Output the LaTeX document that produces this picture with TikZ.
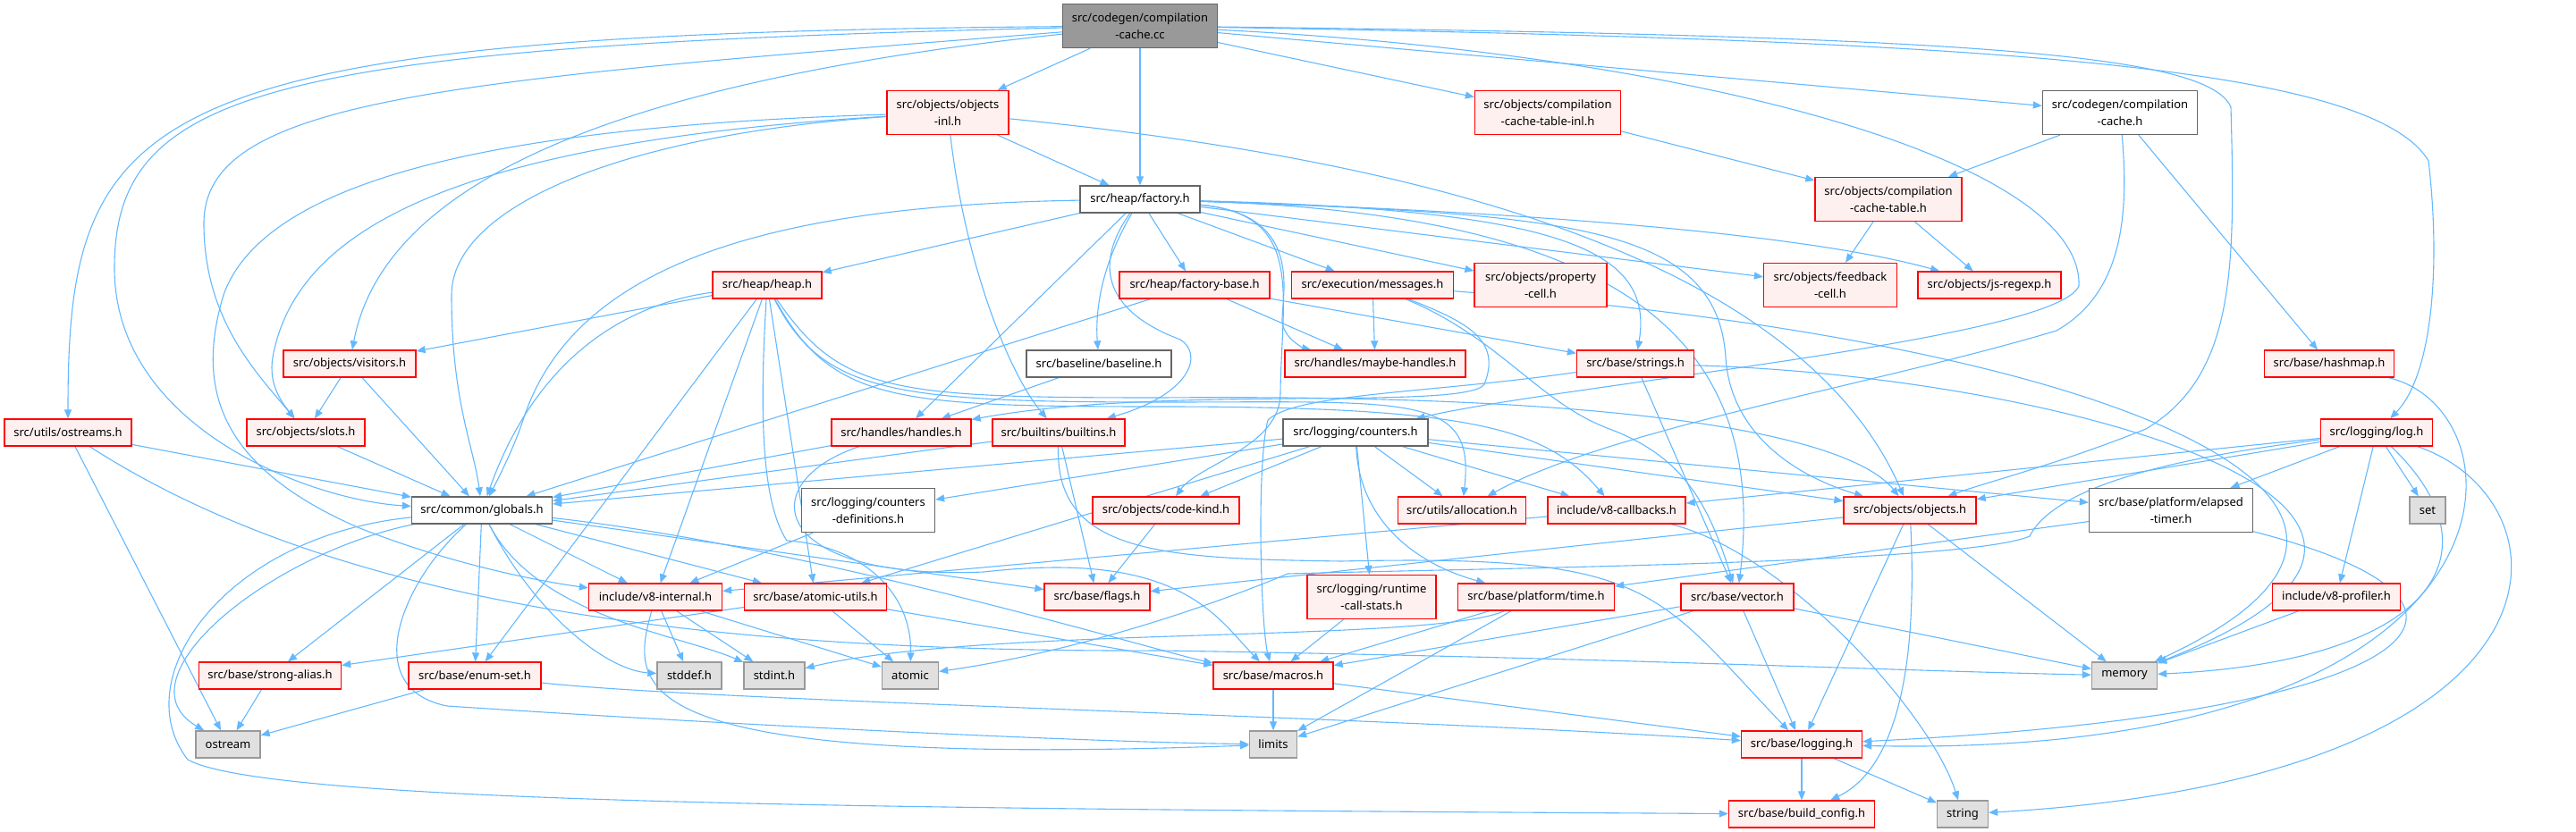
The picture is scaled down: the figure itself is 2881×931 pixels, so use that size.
\documentclass[tikz,border=0pt]{standalone}
\usepackage{fontspec}
\setmainfont{Noto Sans}
\usepackage{xcolor}
\usepackage{tikz}
\usetikzlibrary{arrows.meta}
\definecolor{edgeblue}{HTML}{63B8FF}
\definecolor{redfill}{HTML}{FFF0F0}
\definecolor{redline}{HTML}{FF0000}
\definecolor{sysfill}{HTML}{E0E0E0}
\definecolor{sysline}{HTML}{999999}
\definecolor{rootfill}{HTML}{999999}
\definecolor{boxline}{HTML}{666666}
\pgfdeclarelayer{edges}
\pgfsetlayers{edges,main}

\begin{document}
\begin{tikzpicture}[x=1pt, y=-1pt,
  incbox/.style={rectangle, draw, line width=1.3pt, inner sep=0pt, minimum height=30pt, align=center, font=\fontsize{13pt}{19pt}\selectfont},
  plainbox/.style={incbox, draw=boxline, fill=white},
  redbox/.style={incbox, draw=redline, fill=redfill},
  sysbox/.style={incbox, draw=sysline, fill=sysfill},
  rootbox/.style={incbox, draw=boxline, fill=rootfill},
  tall/.style={minimum height=49pt},
  dep/.style={draw=edgeblue, line width=1.1pt, -{Triangle[length=10pt, width=8pt]}}]
  \useasboundingbox (0,0) rectangle (2881,931);

  \node[rootbox, tall, minimum width=173pt] (cc) at (1275,29) {src/codegen/compilation\\-cache.cc};
  \node[redbox, tall, minimum width=136pt] (objinl) at (1060,126) {src/objects/objects\\-inl.h};
  \node[redbox, tall, minimum width=163pt] (cctinl) at (1731,126) {src/objects/compilation\\-cache-table-inl.h};
  \node[plainbox, tall, minimum width=173pt] (ccache) at (2371,126) {src/codegen/compilation\\-cache.h};
  \node[plainbox, minimum width=134pt] (factory) at (1275,223) {src/heap/factory.h};
  \node[redbox, tall, minimum width=164pt] (cctable) at (2112,223) {src/objects/compilation\\-cache-table.h};
  \node[redbox, minimum width=122pt] (heap) at (858,319) {src/heap/heap.h};
  \node[redbox, minimum width=168pt] (fbase) at (1336,319) {src/heap/factory-base.h};
  \node[redbox, minimum width=181pt] (messages) at (1535,319) {src/execution/messages.h};
  \node[redbox, tall, minimum width=148pt] (propcell) at (1723,319) {src/objects/property\\-cell.h};
  \node[redbox, tall, minimum width=149pt] (fbcell) at (2047,319) {src/objects/feedback\\-cell.h};
  \node[redbox, minimum width=160pt] (jsregexp) at (2225,319) {src/objects/js-regexp.h};
  \node[redbox, minimum width=148pt] (visitors) at (391,407) {src/objects/visitors.h};
  \node[plainbox, minimum width=162pt] (baseline) at (1229,407) {src/baseline/baseline.h};
  \node[redbox, minimum width=202pt] (mhandles) at (1538,407) {src/handles/maybe-handles.h};
  \node[redbox, minimum width=131pt] (strings) at (1829,407) {src/base/strings.h};
  \node[redbox, minimum width=145pt] (hashmap) at (2605,407) {src/base/hashmap.h};
  \node[redbox, minimum width=142pt] (ostreams) at (76,484) {src/utils/ostreams.h};
  \node[redbox, minimum width=132pt] (slots) at (342,484) {src/objects/slots.h};
  \node[redbox, minimum width=156pt] (handles) at (1008,484) {src/handles/handles.h};
  \node[redbox, minimum width=148pt] (builtins) at (1184,484) {src/builtins/builtins.h};
  \node[plainbox, minimum width=162pt] (counters) at (1516,484) {src/logging/counters.h};
  \node[redbox, minimum width=125pt] (log) at (2658,484) {src/logging/log.h};
  \node[plainbox, minimum width=157pt] (globals) at (539,571) {src/common/globals.h};
  \node[plainbox, tall, minimum width=149pt] (cdefs) at (971,571) {src/logging/counters\\-definitions.h};
  \node[redbox, minimum width=164pt] (codekind) at (1304,571) {src/objects/code-kind.h};
  \node[redbox, minimum width=143pt] (alloc) at (1635,571) {src/utils/allocation.h};
  \node[redbox, minimum width=154pt] (callbacks) at (1808,571) {include/v8-callbacks.h};
  \node[redbox, minimum width=148pt] (objects) at (2136,571) {src/objects/objects.h};
  \node[plainbox, tall, minimum width=183pt] (elapsed) at (2428,571) {src/base/platform/elapsed\\-timer.h};
  \node[sysbox, minimum width=40pt] (set) at (2715,571) {set};
  \node[redbox, minimum width=149pt] (internal) at (733,668) {include/v8-internal.h};
  \node[redbox, minimum width=159pt] (atomicutils) at (912,668) {src/base/atomic-utils.h};
  \node[redbox, minimum width=118pt] (flags) at (1227,668) {src/base/flags.h};
  \node[redbox, tall, minimum width=144pt] (rcs) at (1534,668) {src/logging/runtime\\-call-stats.h};
  \node[redbox, minimum width=175pt] (time) at (1718,668) {src/base/platform/time.h};
  \node[redbox, minimum width=126pt] (vector) at (1943,668) {src/base/vector.h};
  \node[redbox, minimum width=143pt] (profiler) at (2613,668) {include/v8-profiler.h};
  \node[redbox, minimum width=159pt] (alias) at (302,756) {src/base/strong-alias.h};
  \node[redbox, minimum width=148pt] (enumset) at (531,756) {src/base/enum-set.h};
  \node[sysbox, minimum width=72pt] (stddef) at (771,756) {stddef.h};
  \node[sysbox, minimum width=68pt] (stdint) at (866,756) {stdint.h};
  \node[sysbox, minimum width=63pt] (atomic) at (1018,756) {atomic};
  \node[redbox, minimum width=134pt] (macros) at (1424,756) {src/base/macros.h};
  \node[sysbox, minimum width=73pt] (memory) at (2376,756) {memory};
  \node[sysbox, minimum width=72pt] (ostream) at (255,833) {ostream};
  \node[sysbox, minimum width=53pt] (limits) at (1424,833) {limits};
  \node[redbox, minimum width=135pt] (logging) at (2015,833) {src/base/logging.h};
  \node[sysbox, minimum width=57pt] (string) at (2195,911) {string};
  \node[redbox, minimum width=163pt] (bconfig) at (2015,911) {src/base/build\_config.h};

  \begin{pgfonlayer}{edges}
  \draw[dep] (cc) -- (objinl);
  \draw[dep] (cc) -- (factory);
  \draw[dep] (cc) -- (cctinl);
  \draw[dep] (cc) -- (ccache);
  \draw[dep] (cc) .. controls (150,38) and (76,120) .. (ostreams);
  \draw[dep] (cc) .. controls (300,52) and (128,100) .. (128,300) .. controls (128,480) and (350,560) .. (globals);
  \draw[dep] (cc) .. controls (500,90) and (228,110) .. (228,250) .. controls (228,360) and (290,420) .. (slots);
  \draw[dep] (cc) .. controls (700,90) and (430,200) .. (visitors);
  \draw[dep] (cc) .. controls (2200,45) and (2650,70) .. (2716,180) .. controls (2730,300) and (2720,420) .. (log);
  \draw[dep] (cc) .. controls (1900,60) and (2330,180) .. (2325,320) .. controls (2300,380) and (1750,430) .. (counters);
  \draw[dep] (cc) .. controls (2200,40) and (2470,60) .. (2495,120) .. controls (2500,300) and (2500,420) .. (2400,480) .. controls (2300,520) and (2220,540) .. (objects);

  \draw[dep] (objinl) -- (factory);
  \draw[dep] (objinl) .. controls (500,160) and (330,260) .. (305,400) .. controls (300,430) and (315,450) .. (slots);
  \draw[dep] (objinl) .. controls (700,150) and (505,230) .. (505,330) .. controls (505,450) and (530,500) .. (globals);
  \draw[dep] (objinl) .. controls (600,140) and (300,190) .. (250,330) .. controls (220,430) and (240,520) .. (400,590) .. controls (500,630) and (600,650) .. (internal);
  \draw[dep] (objinl) .. controls (1080,300) and (1130,420) .. (builtins);
  \draw[dep] (objinl) .. controls (1500,170) and (2000,260) .. (objects);

  \draw[dep] (cctinl) -- (cctable);
  \draw[dep] (ccache) -- (cctable);
  \draw[dep] (ccache) -- (hashmap);
  \draw[dep] (ccache) .. controls (2382,250) and (2370,330) .. (2300,370) .. controls (2100,430) and (1800,480) .. (alloc);
  \draw[dep] (cctable) -- (fbcell);
  \draw[dep] (cctable) -- (jsregexp);

  \draw[dep] (factory) -- (heap);
  \draw[dep] (factory) -- (fbase);
  \draw[dep] (factory) -- (messages);
  \draw[dep] (factory) -- (propcell);
  \draw[dep] (factory) -- (fbcell);
  \draw[dep] (factory) .. controls (1800,240) and (2050,270) .. (jsregexp);
  \draw[dep] (factory) .. controls (1230,300) and (1225,350) .. (baseline);
  \draw[dep] (factory) .. controls (1460,240) and (1433,330) .. (1434,360) .. controls (1436,380) and (1460,390) .. (mhandles);
  \draw[dep] (factory) .. controls (1750,235) and (1850,280) .. (strings);
  \draw[dep] (factory) -- (handles);
  \draw[dep] (factory) .. controls (1220,300) and (1240,350) .. (1320,380) .. controls (1345,395) and (1335,440) .. (builtins);
  \draw[dep] (factory) .. controls (850,230) and (640,300) .. (585,470) .. controls (575,500) and (560,530) .. (globals);
  \draw[dep] (factory) .. controls (1800,240) and (1980,370) .. (vector);
  \draw[dep] (factory) .. controls (1750,240) and (1920,250) .. (1930,400) .. controls (1935,480) and (2000,530) .. (objects);
  \draw[dep] (factory) .. controls (1460,240) and (1433,330) .. (1432,440) .. controls (1432,500) and (1340,520) .. (codekind);

  \draw[dep] (heap) -- (visitors);
  \draw[dep] (heap) .. controls (700,340) and (600,400) .. (globals);
  \draw[dep] (heap) -- (enumset);
  \draw[dep] (heap) -- (internal);
  \draw[dep] (heap) -- (atomicutils);
  \draw[dep] (heap) .. controls (850,450) and (850,560) .. (880,605) .. controls (960,610) and (1020,660) .. (atomic);
  \draw[dep] (heap) .. controls (920,440) and (1000,450) .. (1300,450) .. controls (1580,450) and (1650,440) .. (alloc);
  \draw[dep] (heap) .. controls (930,450) and (1000,455) .. (1300,455) .. controls (1650,455) and (1730,480) .. (callbacks);
  \draw[dep] (heap) .. controls (940,440) and (1000,445) .. (1300,445) .. controls (1900,440) and (2080,500) .. (objects);

  \draw[dep] (fbase) -- (mhandles);
  \draw[dep] (fbase) -- (globals);
  \draw[dep] (fbase) -- (strings);

  \draw[dep] (messages) -- (mhandles);
  \draw[dep] (messages) .. controls (1640,360) and (1680,380) .. (1660,430) .. controls (1640,460) and (1300,430) .. (handles);
  \draw[dep] (messages) .. controls (1680,380) and (1720,450) .. (1800,480) .. controls (1880,510) and (1910,560) .. (vector);
  \draw[dep] (messages) .. controls (2350,380) and (2800,560) .. (memory);

  \draw[dep] (strings) -- (vector);
  \draw[dep] (strings) .. controls (1600,440) and (1450,440) .. (1418,470) .. controls (1405,520) and (1410,700) .. (macros);
  \draw[dep] (strings) .. controls (2300,420) and (2850,570) .. (memory);

  \draw[dep] (baseline) -- (handles);
  \draw[dep] (handles) -- (globals);
  \draw[dep] (handles) .. controls (840,540) and (860,650) .. (1100,640) .. controls (1320,615) and (1360,690) .. (macros);
  \draw[dep] (builtins) -- (globals);
  \draw[dep] (builtins) -- (flags);
  \draw[dep] (builtins) .. controls (1180,620) and (1300,625) .. (1500,628) .. controls (1850,620) and (1850,660) .. (logging);

  \draw[dep] (counters) -- (globals);
  \draw[dep] (counters) -- (cdefs);
  \draw[dep] (counters) -- (codekind);
  \draw[dep] (counters) -- (alloc);
  \draw[dep] (counters) -- (callbacks);
  \draw[dep] (counters) -- (objects);
  \draw[dep] (counters) -- (rcs);
  \draw[dep] (counters) .. controls (1520,580) and (1580,630) .. (time);
  \draw[dep] (counters) -- (atomicutils);
  \draw[dep] (counters) -- (elapsed);

  \draw[dep] (log) -- (objects);
  \draw[dep] (log) -- (callbacks);
  \draw[dep] (log) -- (elapsed);
  \draw[dep] (log) -- (set);
  \draw[dep] (log) -- (profiler);
  \draw[dep] (log) .. controls (2800,620) and (2720,740) .. (memory);
  \draw[dep] (log) .. controls (2880,560) and (2900,870) .. (string);
  \draw[dep] (log) .. controls (2450,510) and (2300,540) .. (2270,600) .. controls (2200,630) and (1700,635) .. (1440,642) .. controls (1350,680) and (1200,730) .. (atomic);

  \draw[dep] (globals) -- (alias);
  \draw[dep] (globals) -- (enumset);
  \draw[dep] (globals) -- (internal);
  \draw[dep] (globals) -- (atomicutils);
  \draw[dep] (globals) -- (flags);
  \draw[dep] (globals) .. controls (900,610) and (1300,730) .. (macros);
  \draw[dep] (globals) .. controls (600,690) and (680,750) .. (stddef);
  \draw[dep] (globals) .. controls (600,690) and (760,710) .. (stdint);
  \draw[dep] (globals) .. controls (300,620) and (130,760) .. (ostream);
  \draw[dep] (globals) .. controls (450,650) and (400,770) .. (500,790) .. controls (800,810) and (1200,830) .. (limits);
  \draw[dep] (globals) .. controls (250,600) and (140,760) .. (210,850) .. controls (300,900) and (1000,905) .. (bconfig);

  \draw[dep] (ostreams) -- (globals);
  \draw[dep] (ostreams) -- (ostream);
  \draw[dep] (ostreams) .. controls (380,680) and (800,730) .. (1300,728) .. controls (1800,736) and (2100,750) .. (memory);
  \draw[dep] (visitors) -- (slots);
  \draw[dep] (visitors) -- (globals);
  \draw[dep] (slots) -- (globals);
  \draw[dep] (cdefs) -- (internal);
  \draw[dep] (codekind) -- (flags);
  \draw[dep] (callbacks) -- (internal);
  \draw[dep] (callbacks) .. controls (2000,620) and (2160,800) .. (string);
  \draw[dep] (objects) -- (flags);
  \draw[dep] (objects) -- (memory);
  \draw[dep] (objects) -- (logging);
  \draw[dep] (objects) .. controls (2145,750) and (2120,860) .. (bconfig);
  \draw[dep] (elapsed) -- (time);
  \draw[dep] (elapsed) .. controls (2850,680) and (2700,800) .. (logging);
  \draw[dep] (profiler) -- (memory);
  \draw[dep] (hashmap) .. controls (2830,460) and (2840,850) .. (logging);
  \draw[dep] (internal) -- (stddef);
  \draw[dep] (internal) -- (stdint);
  \draw[dep] (internal) -- (atomic);
  \draw[dep] (internal) .. controls (705,770) and (690,860) .. (limits);
  \draw[dep] (atomicutils) -- (atomic);
  \draw[dep] (atomicutils) -- (macros);
  \draw[dep] (atomicutils) -- (alias);
  \draw[dep] (rcs) -- (macros);
  \draw[dep] (time) -- (macros);
  \draw[dep] (time) -- (limits);
  \draw[dep] (time) .. controls (1600,720) and (1100,700) .. (stdint);
  \draw[dep] (vector) -- (macros);
  \draw[dep] (vector) -- (limits);
  \draw[dep] (vector) -- (logging);
  \draw[dep] (vector) -- (memory);
  \draw[dep] (alias) -- (ostream);
  \draw[dep] (enumset) -- (ostream);
  \draw[dep] (enumset) .. controls (800,785) and (1500,800) .. (logging);
  \draw[dep] (macros) -- (limits);
  \draw[dep] (macros) -- (logging);
  \draw[dep] (logging) -- (bconfig);
  \draw[dep] (logging) -- (string);
  \end{pgfonlayer}
\end{tikzpicture}
\end{document}
